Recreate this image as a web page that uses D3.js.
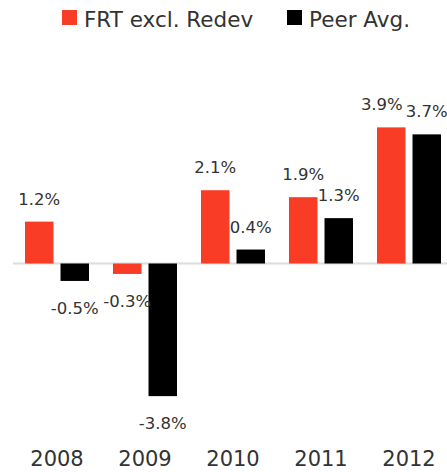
<!DOCTYPE html>
<html>
<head>
	<meta charset="UTF-8" />
	<title>FRT vs Peer</title>
	<script src="https://d3js.org/d3.v7.min.js"></script>
	<style>
		body { margin: 0; background: #fff; }
		text { font-family: "DejaVu Sans", sans-serif; fill: #333; }
	</style>
</head>
<body>
	<svg id="chart"></svg>

	<script type="text/javascript">
	// data
	years = ["2008", "2009", "2010", "2011", "2012"]
	seriesNames = ["FRT excl. Redev", "Peer Avg."]
	frtValues = [1.2, -0.3, 2.1, 1.9, 3.9]
	peerValues = [-0.5, -3.8, 0.4, 1.3, 3.7]

	red = "#f93c26"
	black = "#000000"
	colors = [red, black]

	var width = 447, height = 472

	var svg = d3.select("#chart")
		.attr("width", width)
		.attr("height", height)

	var rows = years.map((y, i) => ({ year: y, values: [frtValues[i], peerValues[i]] }))

	var xScale = d3.scaleBand()
		.domain(years)
		.range([13, 453])
		.paddingInner(24 / 88)
		.paddingOuter(12 / 88)

	var xInner = d3.scaleBand()
		.domain([0, 1])
		.range([0, xScale.bandwidth()])
		.paddingInner(7 / 35.5)

	var yScale = d3.scaleLinear().domain([-4, 4]).range([403.1, 123.9])

	// zero line
	svg.append("line")
		.attr("x1", 13).attr("x2", width)
		.attr("y1", yScale(0)).attr("y2", yScale(0))
		.attr("stroke", "#dcdcdc")
		.attr("stroke-width", 2)

	var groups = svg.selectAll(".grp")
		.data(rows)
		.enter()
		.append("g")
		.attr("class", "grp")
		.attr("transform", d => "translate(" + xScale(d.year) + ",0)")

	groups.selectAll("rect")
		.data(d => d.values.map((v, k) => ({ v: v, k: k })))
		.enter()
		.append("rect")
		.attr("x", d => xInner(d.k))
		.attr("width", xInner.bandwidth())
		.attr("y", d => yScale(Math.max(0, d.v)))
		.attr("height", d => Math.abs(yScale(d.v) - yScale(0)))
		.attr("fill", d => colors[d.k])

	// value labels
	var labels = groups.selectAll(".val")
		.data(d => d.values.map((v, k) => ({ v: v, k: k })))
		.enter()
		.append("text")
		.attr("class", "val")
		.attr("x", d => xInner(d.k) + xInner.bandwidth() / 2)
		.attr("y", d => d.v >= 0 ? yScale(d.v) - 17 : yScale(d.v) + 33)
		.attr("text-anchor", "middle")
		.style("font-size", "16.5px")
		.text(d => d.v.toFixed(1) + "%")

	// push red label left if it runs into the black one
	groups.each(function () {
		var t = d3.select(this).selectAll(".val").nodes()
		var a = t[0].getBBox(), b = t[1].getBBox()
		var ya = +t[0].getAttribute("y"), yb = +t[1].getAttribute("y")
		if (Math.abs(ya - yb) < 14 && a.x + a.width > b.x - 2) {
			t[0].setAttribute("x", +t[0].getAttribute("x") - (a.x + a.width - b.x) - 3)
		}
	})

	// year axis
	var xAxis = d3.axisBottom(xScale).tickSize(0).tickPadding(0)
	var ax = svg.append("g")
		.attr("transform", "translate(0,450)")
		.call(xAxis)
	ax.select(".domain").remove()
	ax.selectAll("text")
		.attr("dy", null)
		.attr("y", 16)
		.style("font-size", "21px")
		.style("font-family", "'DejaVu Sans', sans-serif")
		.attr("fill", "#2a2a2a")

	// legend
	var legendX = [62, 287]
	var legend = svg.selectAll(".leg")
		.data(seriesNames)
		.enter()
		.append("g")
		.attr("class", "leg")
		.attr("transform", (d, i) => "translate(" + legendX[i] + ",10)")
	legend.append("rect")
		.attr("width", 15).attr("height", 15)
		.attr("fill", (d, i) => colors[i])
	legend.append("text")
		.attr("x", 22).attr("y", 16.5)
		.style("font-size", "21.5px")
		.text(d => d)
	</script>
</body>
</html>
